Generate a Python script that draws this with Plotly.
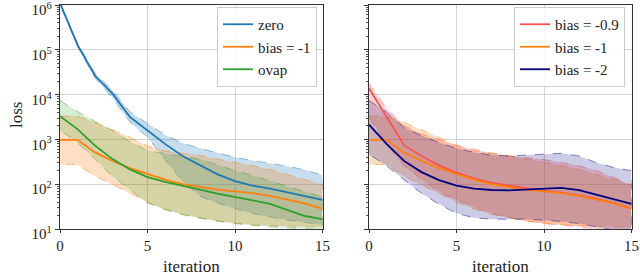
import plotly.graph_objects as go

iterations = list(range(16))

# left panel (log10 of loss)
zero_mean = [6.04, 5.11, 4.42, 4.02, 3.5, 3.2, 2.9, 2.63, 2.42, 2.22, 2.07, 1.97, 1.9, 1.82, 1.73, 1.65]
zero_hi = [6.07, 5.15, 4.47, 4.1, 3.61, 3.35, 3.1, 2.92, 2.8, 2.7, 2.6, 2.53, 2.47, 2.4, 2.32, 2.2]
zero_lo = [6.01, 5.07, 4.37, 3.93, 3.39, 3.05, 2.55, 2.07, 1.73, 1.58, 1.46, 1.35, 1.27, 1.2, 1.14, 1.09]

bias1_mean = [2.99, 2.99, 2.71, 2.52, 2.36, 2.23, 2.1, 2.0, 1.94, 1.88, 1.84, 1.8, 1.74, 1.66, 1.57, 1.45]
bias1_hi = [3.52, 3.52, 3.38, 3.22, 3.05, 2.85, 2.74, 2.69, 2.64, 2.56, 2.49, 2.41, 2.33, 2.22, 2.1, 1.99]
bias1_lo = [2.44, 2.44, 2.18, 1.99, 1.8, 1.6, 1.45, 1.33, 1.25, 1.18, 1.13, 1.1, 1.08, 1.06, 1.05, 1.04]

ovap_mean = [3.52, 3.23, 2.86, 2.56, 2.33, 2.16, 2.05, 1.97, 1.88, 1.79, 1.72, 1.64, 1.56, 1.42, 1.29, 1.22]
ovap_hi = [3.87, 3.62, 3.4, 3.2, 2.95, 2.75, 2.68, 2.62, 2.56, 2.43, 2.3, 2.2, 2.07, 1.95, 1.83, 1.72]
ovap_lo = [3.2, 2.93, 2.56, 2.18, 1.88, 1.58, 1.43, 1.32, 1.24, 1.18, 1.12, 1.08, 1.05, 1.02, 1.0, 0.98]

# right panel
b09_mean = [4.14, 3.5, 2.87, 2.63, 2.42, 2.26, 2.13, 2.03, 1.97, 1.9, 1.85, 1.81, 1.75, 1.67, 1.58, 1.46]
b09_hi = [4.25, 3.69, 3.31, 3.12, 3.0, 2.87, 2.78, 2.69, 2.63, 2.59, 2.55, 2.48, 2.41, 2.3, 2.15, 1.97]
b09_lo = [3.5, 2.9, 2.41, 2.11, 1.84, 1.65, 1.5, 1.35, 1.25, 1.18, 1.12, 1.08, 1.05, 1.0, 0.97, 0.95]

b2_mean = [3.33, 2.9, 2.52, 2.27, 2.09, 1.97, 1.9, 1.87, 1.86, 1.88, 1.9, 1.92, 1.87, 1.77, 1.67, 1.56]
b2_hi = [3.87, 3.61, 3.27, 3.08, 2.93, 2.8, 2.71, 2.65, 2.63, 2.65, 2.66, 2.69, 2.63, 2.48, 2.37, 2.3]
b2_lo = [2.67, 2.41, 2.1, 1.8, 1.55, 1.35, 1.25, 1.22, 1.22, 1.22, 1.2, 1.17, 1.12, 1.05, 0.97, 0.9]

y_tick_exps = [1, 2, 3, 4, 5, 6]
x_ticks = [0, 5, 10, 15]

FONT = "Liberation Serif, Times New Roman, Times, serif"


def p(v):
    return [10 ** a for a in v]


fig = go.Figure()


def band(x, lo, hi, rgb, alpha, xa, ya):
    fig.add_trace(go.Scatter(
        x=x + x[::-1], y=p(hi) + p(lo)[::-1], fill="toself",
        fillcolor=f"rgba({rgb},{alpha})",
        line=dict(color=f"rgba({rgb},0.45)", width=1, dash="dash"),
        hoverinfo="skip", showlegend=False, xaxis=xa, yaxis=ya))


def line(x, m, color, name, xa, ya, leg):
    fig.add_trace(go.Scatter(
        x=x, y=p(m), mode="lines", name=name,
        line=dict(color=color, width=1.8),
        xaxis=xa, yaxis=ya, legend=leg))


# left
band(iterations, zero_lo, zero_hi, "31,119,180", 0.25, "x", "y")
band(iterations, bias1_lo, bias1_hi, "255,127,14", 0.25, "x", "y")
band(iterations, ovap_lo, ovap_hi, "44,160,44", 0.2, "x", "y")
line(iterations, zero_mean, "#1f77b4", "zero", "x", "y", "legend")
line(iterations, bias1_mean, "#ff7f0e", "bias = -1", "x", "y", "legend")
line(iterations, ovap_mean, "#2ca02c", "ovap", "x", "y", "legend")

# right
band(iterations, b09_lo, b09_hi, "255,80,80", 0.25, "x2", "y2")
band(iterations, bias1_lo, bias1_hi, "255,127,14", 0.25, "x2", "y2")
band(iterations, b2_lo, b2_hi, "0,0,128", 0.2, "x2", "y2")
line(iterations, b09_mean, "#ff5050", "bias = -0.9", "x2", "y2", "legend2")
line(iterations, bias1_mean, "#ff7f0e", "bias = -1", "x2", "y2", "legend2")
line(iterations, b2_mean, "#000080", "bias = -2", "x2", "y2", "legend2")

tickvals = [10 ** e for e in y_tick_exps]
ticktext = [f"10<sup>{e}</sup>" for e in y_tick_exps]
minor_vals = [k * 10 ** e for e in y_tick_exps[:-1] for k in range(2, 10)]

common_x = dict(range=[0, 15], tickvals=x_ticks, showgrid=True, gridcolor="#d3d3d3",
                gridwidth=1, showline=True, linecolor="#333", linewidth=1.3, mirror=True,
                ticks="outside", ticklen=3, tickcolor="#333", zeroline=False,
                ticklabeloverflow="allow", automargin=False,
                tickfont=dict(family=FONT, size=15, color="#222"))
common_y = dict(type="log", range=[1, 6.0], tickmode="array", tickvals=tickvals,
                ticktext=ticktext, showgrid=True, gridcolor="#d3d3d3", gridwidth=1,
                showline=True, linecolor="#333", linewidth=1.3, mirror=True,
                ticks="outside", ticklen=4, tickcolor="#333", zeroline=False,
                ticklabeloverflow="allow", automargin=False, ticklabelshift=5,
                minor=dict(tickmode="array", tickvals=minor_vals, ticks="outside",
                           ticklen=2, tickcolor="#555", showgrid=False),
                domain=[47 / 276, 271 / 276],
                tickfont=dict(family=FONT, size=15, color="#222"))

leg = dict(font=dict(family=FONT, size=15, color="#222"), bgcolor="rgba(255,255,255,0.85)",
           bordercolor="#cccccc", borderwidth=1, yanchor="top", xanchor="right",
           tracegroupgap=0, itemwidth=30)

fig.update_layout(
    width=640, height=276, autosize=False,
    margin=dict(l=0, r=0, t=0, b=0, pad=0, autoexpand=False),
    paper_bgcolor="white", plot_bgcolor="white",
    xaxis=dict(domain=[60 / 640, 322.5 / 640], anchor="y", **common_x),
    xaxis2=dict(domain=[369 / 640, 631.5 / 640], anchor="y2", **common_x),
    yaxis=dict(anchor="x", **common_y),
    yaxis2=dict(anchor="x2", showticklabels=False, **common_y),
    legend=dict(x=317 / 640, y=(276 - 7) / 276, **leg),
    legend2=dict(x=625 / 640, y=(276 - 7) / 276, **leg),
    annotations=[
        dict(text="loss", x=17 / 640, y=(276 - 115) / 276, xref="paper", yref="paper",
             xanchor="center", yanchor="middle",
             textangle=-90, showarrow=False, font=dict(family=FONT, size=17, color="#222")),
        dict(text="iteration", x=191 / 640, y=(276 - 266) / 276, xref="paper", yref="paper",
             xanchor="center", yanchor="middle",
             showarrow=False, font=dict(family=FONT, size=17, color="#222")),
        dict(text="iteration", x=500 / 640, y=(276 - 266) / 276, xref="paper", yref="paper",
             xanchor="center", yanchor="middle",
             showarrow=False, font=dict(family=FONT, size=17, color="#222")),
    ],
)

fig.write_html(
    "out.html",
    config={"responsive": False, "displayModeBar": False},
    post_script="document.body.style.margin='0';document.body.style.overflow='hidden';",
)
